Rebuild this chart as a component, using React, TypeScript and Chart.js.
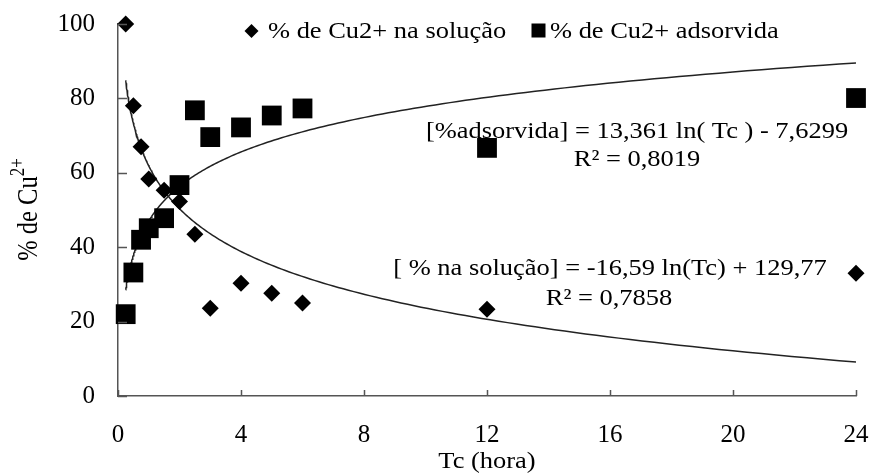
import React, { useEffect, useRef } from "react";
import { Chart, registerables } from "chart.js";

Chart.register(...registerables);

// ---- data ----
const timeHours = [0.25, 0.5, 0.75, 1, 1.5, 2, 2.5, 3, 4, 5, 6, 12, 24];
const pctSolution = [100, 78, 67, 58.3, 55.3, 52.3, 43.5, 23.6, 30.3, 27.6, 25, 23.3, 33];
const pctAdsorbed = [22, 33.2, 42, 45.1, 47.8, 56.7, 76.8, 69.6, 72.2, 75.4, 77.3, 66.7, 80.1];
const xTicks = [0, 4, 8, 12, 16, 20, 24];
const yTicks = [0, 20, 40, 60, 80, 100];

// logarithmic fits (fitted with Tc in minutes)
const fitSolution = { a: -16.59, b: 129.77 };
const fitAdsorbed = { a: 13.361, b: -7.6299 };

const labelSolution = "% de Cu2+ na solução";
const labelAdsorbed = "% de Cu2+ adsorvida";
const eqAdsorbed = "[%adsorvida] = 13,361 ln( Tc ) - 7,6299";
const r2Adsorbed = "R² = 0,8019";
const eqSolution = "[ % na solução] = -16,59 ln(Tc) + 129,77";
const r2Solution = "R² = 0,7858";
const xTitle = "Tc (hora)";
const yTitleMain = "% de Cu";
const yTitleSup = "2+";

const FONT = '"Liberation Serif", "Times New Roman", Times, serif';
const TXT = 23;
const HS = 1.15;

function trendPoints(fit: { a: number; b: number }) {
  const t0 = timeHours[0];
  const t1 = timeHours[timeHours.length - 1];
  const pts: { x: number; y: number }[] = [];
  const n = 200;
  for (let i = 0; i <= n; i++) {
    const t = t0 * Math.pow(t1 / t0, i / n);
    pts.push({ x: t, y: fit.a * Math.log(t * 60) + fit.b });
  }
  return pts;
}

function drawText(
  ctx: CanvasRenderingContext2D,
  s: string,
  x: number,
  y: number,
  size: number,
  align: "left" | "center" | "right",
  hs = HS
) {
  ctx.save();
  ctx.font = `${size}px ${FONT}`;
  ctx.textBaseline = "alphabetic";
  ctx.textAlign = "left";
  const w = ctx.measureText(s).width * hs;
  const x0 = align === "center" ? x - w / 2 : align === "right" ? x - w : x;
  ctx.translate(x0, y);
  ctx.scale(hs, 1);
  ctx.fillStyle = "#000";
  ctx.fillText(s, 0, 0);
  ctx.restore();
  return w;
}

const decorPlugin = {
  id: "decor",
  afterDraw(chart: any) {
    const ctx: CanvasRenderingContext2D = chart.ctx;
    const xs = chart.scales.x;
    const ys = chart.scales.y;
    const area = chart.chartArea;
    ctx.save();
    // inward tick marks
    ctx.strokeStyle = "#555";
    ctx.lineWidth = 1.5;
    ctx.beginPath();
    for (const v of yTicks) {
      const py = Math.round(ys.getPixelForValue(v)) + 0.5;
      ctx.moveTo(area.left, py);
      ctx.lineTo(area.left + 9, py);
    }
    for (const v of xTicks) {
      const px = Math.round(xs.getPixelForValue(v)) + 0.5;
      ctx.moveTo(px, area.bottom);
      ctx.lineTo(px, area.bottom - 6);
    }
    ctx.stroke();

    // legend
    ctx.fillStyle = "#000";
    ctx.beginPath();
    const dx = 251.5, dy = 31, dr = 7;
    ctx.moveTo(dx - dr, dy);
    ctx.lineTo(dx, dy - dr);
    ctx.lineTo(dx + dr, dy);
    ctx.lineTo(dx, dy + dr);
    ctx.closePath();
    ctx.fill();
    drawText(ctx, labelSolution, 268, 38, TXT, "left");
    ctx.fillRect(531.5, 23.5, 14, 14);
    drawText(ctx, labelAdsorbed, 550, 38, TXT, "left");

    // equations
    drawText(ctx, eqAdsorbed, 637, 138, TXT, "center");
    drawText(ctx, r2Adsorbed, 637, 166, TXT, "center");
    drawText(ctx, eqSolution, 610, 275, TXT, "center");
    drawText(ctx, r2Solution, 609, 305, TXT, "center");

    // x title
    drawText(ctx, xTitle, 487, 468, TXT, "center");

    // y title with superscript
    ctx.save();
    ctx.translate(37, 209.5);
    ctx.rotate(-Math.PI / 2);
    ctx.scale(1, 1.18);
    ctx.font = `24.5px ${FONT}`;
    const w1 = ctx.measureText(yTitleMain).width;
    ctx.font = `17px ${FONT}`;
    const w2 = ctx.measureText(yTitleSup).width;
    const start = -(w1 + w2) / 2;
    ctx.fillStyle = "#000";
    ctx.textBaseline = "alphabetic";
    ctx.textAlign = "left";
    ctx.font = `24.5px ${FONT}`;
    ctx.fillText(yTitleMain, start, 0);
    ctx.font = `17px ${FONT}`;
    ctx.fillText(yTitleSup, start + w1, -11);
    ctx.restore();

    ctx.restore();
  },
};

export default function App() {
  const canvasRef = useRef<HTMLCanvasElement | null>(null);

  useEffect(() => {
    document.body.style.margin = "0";
    const canvas = canvasRef.current;
    if (!canvas) return;
    let chart: Chart | null = null;
    let cancelled = false;

    const build = () => {
      if (cancelled) return;
      chart = new Chart(canvas, {
        type: "scatter",
        data: {
          datasets: [
            {
              label: labelSolution,
              data: timeHours.map((t, i) => ({ x: t, y: pctSolution[i] })),
              pointStyle: "rectRot",
              pointRadius: 8.5,
              backgroundColor: "#000",
              borderColor: "#000",
              borderWidth: 0,
              clip: false as any,
              order: 1,
            },
            {
              label: labelAdsorbed,
              data: timeHours.map((t, i) => ({ x: t, y: pctAdsorbed[i] })),
              pointStyle: "rect",
              pointRadius: 14,
              backgroundColor: "#000",
              borderColor: "#000",
              borderWidth: 0,
              clip: false as any,
              order: 1,
            },
            {
              type: "line" as any,
              label: "fit solução",
              data: trendPoints(fitSolution),
              borderColor: "#222",
              borderWidth: 1.5,
              pointRadius: 0,
              showLine: true,
              fill: false,
              tension: 0,
              order: 2,
            },
            {
              type: "line" as any,
              label: "fit adsorvida",
              data: trendPoints(fitAdsorbed),
              borderColor: "#222",
              borderWidth: 1.5,
              pointRadius: 0,
              showLine: true,
              fill: false,
              tension: 0,
              order: 2,
            },
          ],
        },
        options: {
          animation: false,
          responsive: false,
          maintainAspectRatio: false,
          events: [],
          layout: { padding: { left: 0, top: 24, right: 18, bottom: 0 } },
          plugins: {
            legend: { display: false },
            tooltip: { enabled: false },
          },
          scales: {
            x: {
              type: "linear",
              min: 0,
              max: 24,
              afterBuildTicks: (s: any) => {
                s.ticks = xTicks.map((v) => ({ value: v }));
              },
              afterFit: (s: any) => {
                s.height = 78;
                s.paddingLeft = 0;
                s.paddingRight = 0;
              },
              grid: { display: false, drawTicks: false },
              border: { display: true, color: "#555", width: 1.5 },
              ticks: {
                padding: 24,
                color: "#000",
                font: { family: FONT, size: 25 },
                maxRotation: 0,
              },
            },
            y: {
              type: "linear",
              min: 0,
              max: 100,
              afterBuildTicks: (s: any) => {
                s.ticks = yTicks.map((v) => ({ value: v }));
              },
              afterFit: (s: any) => {
                s.width = 118;
                s.paddingTop = 0;
                s.paddingBottom = 0;
              },
              grid: { display: false, drawTicks: false },
              border: { display: true, color: "#555", width: 1.5 },
              ticks: {
                padding: 23,
                color: "#000",
                font: { family: FONT, size: 25 },
              },
            },
          },
        },
        plugins: [decorPlugin],
      });
    };

    const fontsApi: any = (document as any).fonts;
    if (fontsApi && fontsApi.load) {
      Promise.all([
        fontsApi.load('23px "Liberation Serif"'),
        fontsApi.load('25px "Liberation Serif"'),
        fontsApi.load('17px "Liberation Serif"'),
      ])
        .catch(() => null)
        .then(build);
    } else {
      build();
    }

    return () => {
      cancelled = true;
      if (chart) chart.destroy();
    };
  }, []);

  return (
    <div style={{ position: "absolute", left: 0, top: 0, width: 874, height: 474, background: "#fff" }}>
      <span style={{ fontFamily: FONT, position: "absolute", left: -9999, top: 0 }}>.</span>
      <canvas ref={canvasRef} width={874} height={474} style={{ width: 874, height: 474 }} />
    </div>
  );
}
